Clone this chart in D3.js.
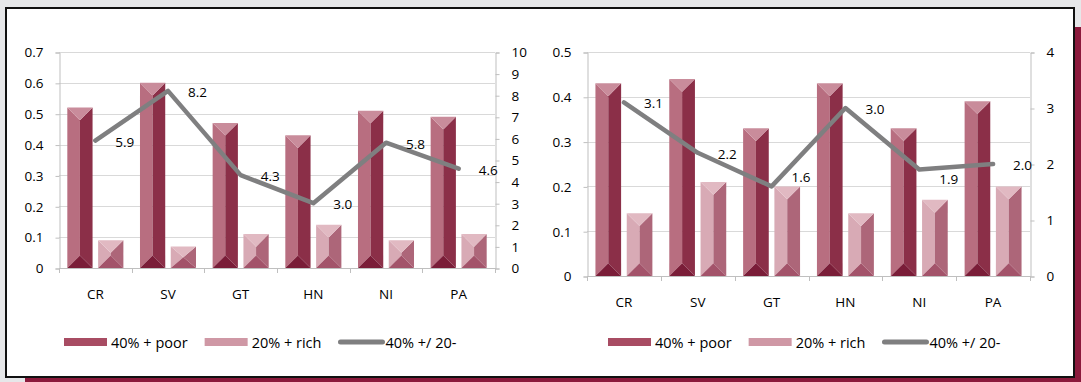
<!DOCTYPE html>
<html>
<head>
<meta charset="utf-8">
<script src="https://cdn.jsdelivr.net/npm/d3@7"></script>
<style>
  html, body { margin: 0; padding: 0; background: #e6e7e9; }
  svg { display: block; }
  text { font-family: "Open Sans", "Noto Sans", sans-serif; fill: #000; }
</style>
</head>
<body>
<svg id="chart" width="1081" height="382"></svg>
<script>
// Country codes shared by both panels
const countries = ["CR", "SV", "GT", "HN", "NI", "PA"];

// Left panel: income shares and ratio
const poorShareA = [0.52, 0.60, 0.47, 0.43, 0.51, 0.49];
const richShareA = [0.09, 0.07, 0.11, 0.14, 0.09, 0.11];
const ratioA     = [5.9, 8.2, 4.3, 3.0, 5.8, 4.6];
const leftTicksA  = [0, 0.1, 0.2, 0.3, 0.4, 0.5, 0.6, 0.7];
const rightTicksA = [0, 1, 2, 3, 4, 5, 6, 7, 8, 9, 10];

// Right panel: income shares and ratio
const poorShareB = [0.43, 0.44, 0.33, 0.43, 0.33, 0.39];
const richShareB = [0.14, 0.21, 0.20, 0.14, 0.17, 0.20];
const ratioB     = [3.1, 2.2, 1.6, 3.0, 1.9, 2.0];
const leftTicksB  = [0, 0.1, 0.2, 0.3, 0.4, 0.5];
const rightTicksB = [0, 1, 2, 3, 4];

// Legend entries
const legendLabels = ["40% + poor", "20% + rich", "40% +/ 20-"];

const svg = d3.select("#chart");
const W = 1081, H = 382;
const FONT = 13.5, LEGEND_FONT = 14.5;

// Page backdrop, maroon drop shadow and white card
svg.append("rect").attr("width", W).attr("height", H).attr("fill", "#e6e7e9");
svg.append("rect").attr("x", 25).attr("y", 27).attr("width", W - 25).attr("height", H - 27).attr("fill", "#8b1a3c");
svg.append("rect").attr("x", 6).attr("y", 8).attr("width", 1068).attr("height", 369)
  .attr("fill", "#ffffff").attr("stroke", "#111").attr("stroke-width", 2);

// Bevelled-bar palettes: faces, caps and legend swatch
const poorColors = { left: "#b86e80", right: "#8b2f48", top: "#c98c9b", bottom: "#7a1d38", swatch: "#a84c63" };
const richColors = { left: "#d8aab5", right: "#ad6679", top: "#e1b9c2", bottom: "#a3536a", swatch: "#cf98a5" };
const lineColor = "#7f7f80";
const gridColor = "#d9d9d9";
const axisColor = "#bfbfbf";

// Panel layout; labelShift nudges individual ratio labels off the bars
const panels = [
  { poor: poorShareA, rich: richShareA, ratio: ratioA, leftTicks: leftTicksA, rightTicks: rightTicksA,
    x0: 59, x1: 495, yTop: 52, yBase: 268, legendX: 64, legendY: 342,
    labelShift: [0, 0, 0, 0, 0, 0] },
  { poor: poorShareB, rich: richShareB, ratio: ratioB, leftTicks: leftTicksB, rightTicks: rightTicksB,
    x0: 587, x1: 1030, yTop: 52, yBase: 276, legendX: 608, legendY: 342,
    labelShift: [0, 0, -10, 0, 8, 0] }
];

function bevelPaths(x, y, w, h) {
  const d = Math.min(w / 2, h / 2);
  const m = x + w / 2;
  const poly = pts => "M" + pts.map(p => p.join(",")).join("L") + "Z";
  return {
    left:   poly([[x, y], [m, y + d], [m, y + h - d], [x, y + h]]),
    right:  poly([[x + w, y], [m, y + d], [m, y + h - d], [x + w, y + h]]),
    top:    poly([[x, y], [x + w, y], [m, y + d]]),
    bottom: poly([[x, y + h], [x + w, y + h], [m, y + h - d]])
  };
}

function drawPanel(cfg) {
  const g = svg.append("g");
  const x = d3.scaleBand().domain(countries).range([cfg.x0, cfg.x1]);
  const xi = d3.scaleBand().domain(["poor", "rich"]).range([0, x.bandwidth()])
    .paddingInner(0.18).paddingOuter(0.27);
  const yL = d3.scaleLinear().domain([0, d3.max(cfg.leftTicks)]).range([cfg.yBase, cfg.yTop]);
  const yR = d3.scaleLinear().domain([0, d3.max(cfg.rightTicks)]).range([cfg.yBase, cfg.yTop]);

  // Horizontal gridlines
  g.append("g").selectAll("line").data(cfg.leftTicks.filter(t => t > 0)).join("line")
    .attr("x1", cfg.x0).attr("x2", cfg.x1)
    .attr("y1", d => Math.round(yL(d)) + 0.5).attr("y2", d => Math.round(yL(d)) + 0.5)
    .attr("stroke", gridColor).attr("stroke-width", 1);

  // Left value axis
  const fmtL = d => d === 0 ? "0" : d3.format(".1f")(d);
  const axL = g.append("g").attr("transform", `translate(${cfg.x0 + 0.5},0.5)`)
    .call(d3.axisLeft(yL).tickValues(cfg.leftTicks).tickFormat(fmtL).tickSize(4).tickPadding(12));
  // Right ratio axis
  const axR = g.append("g").attr("transform", `translate(${cfg.x1 + 0.5},0.5)`)
    .call(d3.axisRight(yR).tickValues(cfg.rightTicks).tickFormat(d3.format("d")).tickSize(4).tickPadding(12));
  [axL, axR].forEach(ax => {
    ax.select(".domain").attr("stroke", axisColor);
    ax.selectAll(".tick line").attr("stroke", axisColor);
    ax.selectAll("text").attr("font-size", FONT).attr("fill", "#000")
      .attr("font-family", '"Open Sans", sans-serif');
  });

  // Category axis with ticks between bands
  const bounds = countries.map(c => x(c)).concat([cfg.x1]);
  g.append("line").attr("x1", cfg.x0).attr("x2", cfg.x1)
    .attr("y1", cfg.yBase + 0.5).attr("y2", cfg.yBase + 0.5).attr("stroke", axisColor);
  g.append("g").selectAll("line").data(bounds).join("line")
    .attr("x1", d => Math.round(d) + 0.5).attr("x2", d => Math.round(d) + 0.5)
    .attr("y1", cfg.yBase).attr("y2", cfg.yBase + 5).attr("stroke", axisColor);
  g.append("g").selectAll("text").data(countries).join("text")
    .attr("x", d => x(d) + x.bandwidth() / 2).attr("y", cfg.yBase + 26)
    .attr("text-anchor", "middle").attr("dominant-baseline", "central")
    .attr("font-size", FONT).text(d => d);

  // Bevelled bars
  const series = [
    { key: "poor", values: cfg.poor, colors: poorColors },
    { key: "rich", values: cfg.rich, colors: richColors }
  ];
  series.forEach(s => {
    const bars = g.append("g").selectAll("g").data(countries.map((c, i) => ({ c, v: s.values[i] }))).join("g");
    bars.each(function (d) {
      const bx = x(d.c) + xi(s.key);
      const by = yL(d.v);
      const p = bevelPaths(bx, by, xi.bandwidth(), cfg.yBase - by);
      const sel = d3.select(this);
      ["left", "right", "top", "bottom"].forEach(k =>
        sel.append("path").attr("d", p[k]).attr("fill", s.colors[k]));
    });
  });

  // Ratio line on the right axis
  const pts = countries.map((c, i) => ({ c, v: cfg.ratio[i], dy: cfg.labelShift[i] }));
  const cx = d => x(d.c) + x.bandwidth() / 2;
  g.append("path").datum(pts)
    .attr("d", d3.line().x(cx).y(d => yR(d.v)))
    .attr("fill", "none").attr("stroke", lineColor).attr("stroke-width", 4.5)
    .attr("stroke-linejoin", "round").attr("stroke-linecap", "round");
  g.append("g").selectAll("text").data(pts).join("text")
    .attr("x", d => cx(d) + 20).attr("y", d => yR(d.v) + 1 + d.dy)
    .attr("dominant-baseline", "central").attr("font-size", FONT)
    .text(d => d3.format(".1f")(d.v));

  // Legend
  const leg = g.append("g");
  let lx = cfg.legendX;
  const swatches = [poorColors.swatch, richColors.swatch, null];
  legendLabels.forEach((label, i) => {
    if (swatches[i]) {
      leg.append("rect").attr("x", lx).attr("y", cfg.legendY - 4).attr("width", 43).attr("height", 8)
        .attr("fill", swatches[i]);
    } else {
      leg.append("line").attr("x1", lx + 2).attr("x2", lx + 44)
        .attr("y1", cfg.legendY).attr("y2", cfg.legendY)
        .attr("stroke", lineColor).attr("stroke-width", 5).attr("stroke-linecap", "round");
    }
    const t = leg.append("text").attr("x", lx + 47).attr("y", cfg.legendY)
      .attr("dominant-baseline", "central").attr("font-size", LEGEND_FONT).text(label);
    lx += 47 + t.node().getComputedTextLength() + 17;
  });
}

panels.forEach(drawPanel);
</script>
</body>
</html>
